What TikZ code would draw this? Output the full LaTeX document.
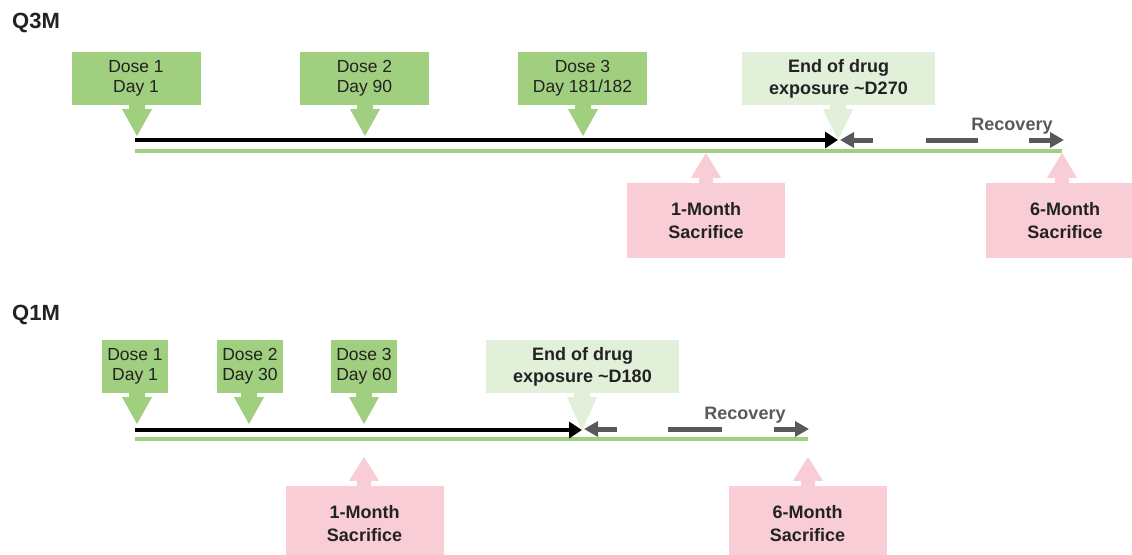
\documentclass[tikz,border=0pt]{standalone}
\usepackage{fontspec}
\setmainfont{Liberation Sans}
\usetikzlibrary{arrows.meta,calc}
\definecolor{dgreen}{RGB}{160,207,127}
\definecolor{lgreen}{RGB}{226,239,217}
\definecolor{pinkc}{RGB}{248,205,214}
\definecolor{grayarr}{RGB}{89,89,89}
\definecolor{txt}{RGB}{34,34,34}
\newcommand\ptrdown[3]{\fill[#1] let \p1=(#2.south), \p2=(#3) in
  (\x2-8pt,\y1+0.5pt) -- (\x2-8pt,\y1-4pt) -- (\x2-15pt,\y1-4pt) -- (\x2,\y2) --
  (\x2+15pt,\y1-4pt) -- (\x2+8pt,\y1-4pt) -- (\x2+8pt,\y1+0.5pt) -- cycle;}
\newcommand\ptrup[3]{\fill[#1] let \p1=(#2.north), \p2=(#3) in
  (\x2-7pt,\y1-0.5pt) -- (\x2-7pt,\y1+5pt) -- (\x2-15pt,\y1+5pt) -- (\x2,\y2) --
  (\x2+15pt,\y1+5pt) -- (\x2+7pt,\y1+5pt) -- (\x2+7pt,\y1-0.5pt) -- cycle;}
\begin{document}
\begin{tikzpicture}[x=1pt,y=-1pt,
  dosebox/.style={fill=dgreen, inner sep=0pt, align=center, text=txt,
    font=\fontsize{17.5}{20}\selectfont, minimum height=53pt},
  endbox/.style={fill=lgreen, inner sep=0pt, align=center, text=txt,
    font=\fontsize{18}{22}\selectfont\bfseries, minimum width=193pt, minimum height=53pt},
  sacbox/.style={fill=pinkc, inner sep=0pt, align=center, text=txt,
    font=\fontsize{18}{23}\selectfont\bfseries, minimum width=158pt, minimum height=75pt},
  grouplabel/.style={anchor=west, inner sep=0pt, text=txt, font=\fontsize{22}{24}\selectfont\bfseries},
  reclabel/.style={inner sep=0pt, text=grayarr, font=\fontsize{18}{20}\selectfont\bfseries},
  blackline/.style={line width=4.5pt, -{Triangle[length=13pt,width=16pt]}},
  greenline/.style={line width=4.5pt, draw=dgreen},
  grayline/.style={line width=5pt, draw=grayarr},
  grayarrow/.style={grayline, -{Triangle[length=14pt,width=15pt]}}
]
\useasboundingbox (0,0) rectangle (1132,554);
\clip (0,0) rectangle (1132,554);

% ---------------- Q3M ----------------
\node[grouplabel] (q3lab) at (12,23) {Q3M};

\coordinate (q3bs) at (135,140);
\coordinate (q3gs) at (135,151);
\coordinate (q3ge) at (1062,151);

\node[dosebox, minimum width=129pt] (q3d1) at (136,78.5) {Dose 1\\Day 1};
\node[dosebox, minimum width=129pt] (q3d2) at (364.5,78.5) {Dose 2\\Day 90};
\node[dosebox, minimum width=129pt] (q3d3) at (582.5,78.5) {Dose 3\\Day 181/182};
\node[endbox] (q3end) at (838.5,78.5) {End of drug\\exposure \textasciitilde D270};
\node[sacbox] (q3s1) at (706,220.5) {1-Month\\Sacrifice};
\node[sacbox] (q3s6) at (1065,220.5) {6-Month\\Sacrifice};

\coordinate (q3t1) at (137,136);
\coordinate (q3t2) at (365,136);
\coordinate (q3t3) at (583,136);
\coordinate (q3te) at (838,140);
\coordinate (q3ts1) at (706,153);
\coordinate (q3ts6) at (1062,153);

\ptrdown{dgreen}{q3d1}{q3t1}
\ptrdown{dgreen}{q3d2}{q3t2}
\ptrdown{dgreen}{q3d3}{q3t3}
\ptrdown{lgreen}{q3end}{q3te}
\ptrup{pinkc}{q3s1}{q3ts1}
\ptrup{pinkc}{q3s6}{q3ts6}

\draw[greenline] (q3gs) -- (q3ge);
\draw[blackline] (q3bs) -- (q3te);

\coordinate (q3r1a) at (873,140);
\coordinate (q3r1b) at (840,140);
\coordinate (q3r2a) at (926,140);
\coordinate (q3r2b) at (978,140);
\coordinate (q3r3a) at (1029,140);
\coordinate (q3r3b) at (1064,140);
\draw[grayarrow] (q3r1a) -- (q3r1b);
\draw[grayline] (q3r2a) -- (q3r2b);
\draw[grayarrow] (q3r3a) -- (q3r3b);
\node[reclabel] (q3rec) at (1012,126) {Recovery};

% ---------------- Q1M ----------------
\node[grouplabel] (q1lab) at (12,315) {Q1M};

\coordinate (q1bs) at (135,430);
\coordinate (q1gs) at (135,439);
\coordinate (q1ge) at (808,439);

\node[dosebox, minimum width=66pt] (q1d1) at (135,366.5) {Dose 1\\Day 1};
\node[dosebox, minimum width=66pt] (q1d2) at (250,366.5) {Dose 2\\Day 30};
\node[dosebox, minimum width=66pt] (q1d3) at (364,366.5) {Dose 3\\Day 60};
\node[endbox] (q1end) at (582.5,366.5) {End of drug\\exposure \textasciitilde D180};
\node[sacbox] (q1s1) at (364.5,523.5) {1-Month\\Sacrifice};
\node[sacbox] (q1s6) at (807.5,523.5) {6-Month\\Sacrifice};

\coordinate (q1t1) at (137,424);
\coordinate (q1t2) at (249,424);
\coordinate (q1t3) at (364,424);
\coordinate (q1te) at (582,430);
\coordinate (q1ts1) at (364,457);
\coordinate (q1ts6) at (808,457);

\ptrdown{dgreen}{q1d1}{q1t1}
\ptrdown{dgreen}{q1d2}{q1t2}
\ptrdown{dgreen}{q1d3}{q1t3}
\ptrdown{lgreen}{q1end}{q1te}
\ptrup{pinkc}{q1s1}{q1ts1}
\ptrup{pinkc}{q1s6}{q1ts6}

\draw[greenline] (q1gs) -- (q1ge);
\draw[blackline] (q1bs) -- (q1te);

\coordinate (q1r1a) at (617,429);
\coordinate (q1r1b) at (584,429);
\coordinate (q1r2a) at (668,429);
\coordinate (q1r2b) at (722,429);
\coordinate (q1r3a) at (774,429);
\coordinate (q1r3b) at (809,429);
\draw[grayarrow] (q1r1a) -- (q1r1b);
\draw[grayline] (q1r2a) -- (q1r2b);
\draw[grayarrow] (q1r3a) -- (q1r3b);
\node[reclabel] (q1rec) at (745,415) {Recovery};
\end{tikzpicture}
\end{document}
